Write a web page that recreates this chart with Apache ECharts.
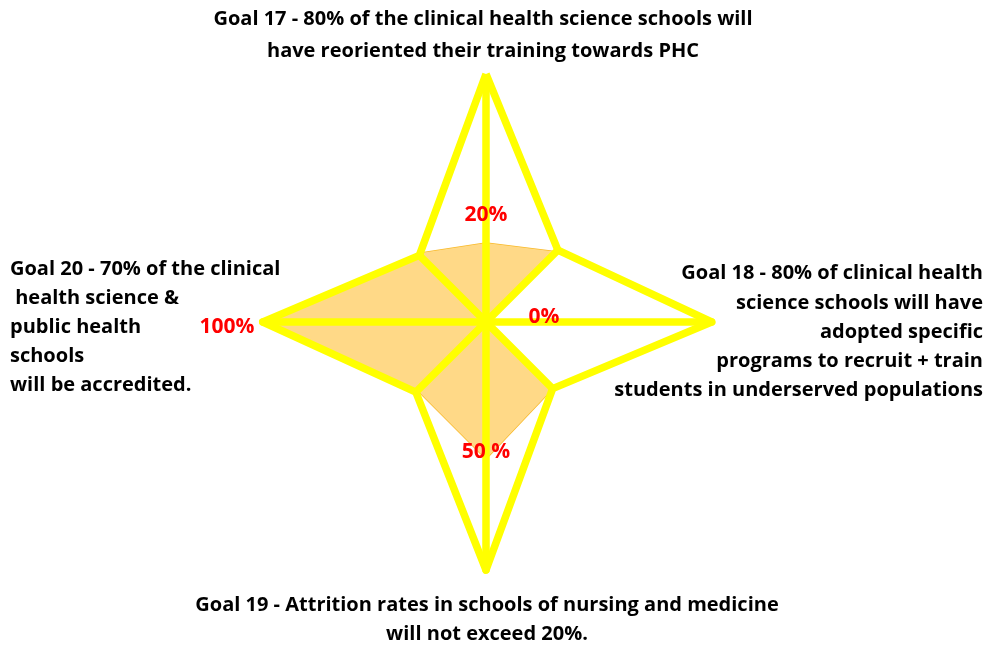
<!DOCTYPE html>
<html>
<head>
<meta charset="utf-8">
<script src="https://cdn.jsdelivr.net/npm/echarts@6/dist/echarts.min.js"></script>
<style>
  html, body { margin: 0; padding: 0; background: #ffffff; }
  #chart { width: 988px; height: 646px; }
</style>
</head>
<body>
<div id="chart"></div>
<script>
// Radar axes, counter-clockwise from the top: four goals with unnamed spokes between them
const goals = [
  'Goal 17 - 80% of the clinical health science schools will\nhave reoriented their training towards PHC',
  '',
  'Goal 20 - 70% of the clinical\n health science &\npublic health\nschools\nwill be accredited.',
  '',
  'Goal 19 - Attrition rates in schools of nursing and medicine\nwill not exceed 20%.',
  '',
  'Goal 18 - 80% of clinical health\nscience schools will have\nadopted specific\nprograms to recruit + train\nstudents in underserved populations',
  ''
];

// Yellow star frame (0-100 on every spoke)
const starOutline = [100, 38, 90, 40, 100, 38, 91, 41];

// Progress scores per spoke and their printed labels
const scores = [20, 39, 100, 39, 50, 38, 0, 40];
const scoreLabels = ['20%', '', '100%', '', '50 %', '', '0%', ''];
// Full-length value of each spoke on the score scale
const scoreAxisMax = [62.8, 100, 110.7, 100, 90.5, 100, 100, 100];

const CENTER = [486, 322];
const RADIUS = 248;
const FONT = '"Open Sans", Lato, sans-serif';

// Spokes drawn as degenerate polygons that return to the centre between vertices
const mainSpokes = starOutline.map((v, i) => (i % 2 === 0 ? v : 0));
const diagonalSpokes = starOutline.map((v, i) => (i % 2 === 1 ? v : 0));

function hiddenRadar(maxes) {
  return {
    center: CENTER,
    radius: RADIUS,
    startAngle: 90,
    shape: 'polygon',
    indicator: goals.map((name, i) => ({ name: name || ' ', min: 0, max: maxes[i] })),
    axisName: { show: false },
    axisLine: { show: false },
    axisTick: { show: false },
    axisLabel: { show: false },
    splitLine: { show: false },
    splitArea: { show: false }
  };
}

const yellowLine = { color: '#FFFF00', width: 7.5, opacity: 1 };

const labelRich = {};
const labelShift = { 0: [0, 0, 56, 0], 2: [10, 70, 0, 0], 4: [0, 0, 14, 0], 6: [0, 0, 10, 116] };
Object.keys(labelShift).forEach(k => {
  labelRich['p' + k] = {
    color: '#FF0000', fontSize: 21, fontWeight: 'bold', fontFamily: FONT,
    padding: labelShift[k]
  };
});

// Goal captions placed around the star
const captionPlacement = [
  { idx: 0, x: 483, y: 3, align: 'center', lineHeight: 32 },
  { idx: 6, x: 983, y: 259, align: 'right', lineHeight: 29.2 },
  { idx: 4, x: 487, y: 591, align: 'center', lineHeight: 29 },
  { idx: 2, x: 10, y: 255, align: 'left', lineHeight: 29 }
];

const chart = echarts.init(document.getElementById('chart'), null, { renderer: 'canvas' });

chart.setOption({
  animation: false,
  backgroundColor: '#ffffff',
  radar: [hiddenRadar(starOutline.map(() => 100)), hiddenRadar(scoreAxisMax)],
  graphic: captionPlacement.map(c => ({
    type: 'text',
    x: c.x,
    y: c.y,
    silent: true,
    style: {
      text: goals[c.idx],
      fill: '#000000',
      font: 'bold 20px ' + FONT,
      textAlign: c.align,
      align: c.align,
      textVerticalAlign: 'top',
      verticalAlign: 'top',
      lineHeight: c.lineHeight
    }
  })),
  series: [
    {
      name: 'Score',
      type: 'radar',
      radarIndex: 1,
      z: 2,
      symbol: 'none',
      lineStyle: { color: '#F9BA2A', width: 1.5 },
      areaStyle: { color: '#FFD987', opacity: 1 },
      data: [{ value: scores }]
    },
    {
      name: 'Frame',
      type: 'radar',
      radarIndex: 0,
      z: 3,
      symbol: 'none',
      lineStyle: yellowLine,
      data: [{ value: starOutline }]
    },
    {
      name: 'Spokes',
      type: 'radar',
      radarIndex: 0,
      z: 3,
      symbol: 'none',
      lineStyle: yellowLine,
      data: [{ value: mainSpokes }, { value: diagonalSpokes }]
    },
    {
      name: 'Score labels',
      type: 'radar',
      radarIndex: 1,
      z: 5,
      symbol: 'circle',
      symbolSize: 2,
      itemStyle: { color: 'rgba(0,0,0,0)' },
      lineStyle: { opacity: 0, width: 0 },
      label: {
        show: true,
        position: 'inside',
        formatter: p => {
          const i = scores.indexOf(p.value);
          return scoreLabels[i] ? '{p' + i + '|' + scoreLabels[i] + '}' : '';
        },
        rich: labelRich
      },
      data: [{ value: scores }]
    }
  ]
});
</script>
</body>
</html>
